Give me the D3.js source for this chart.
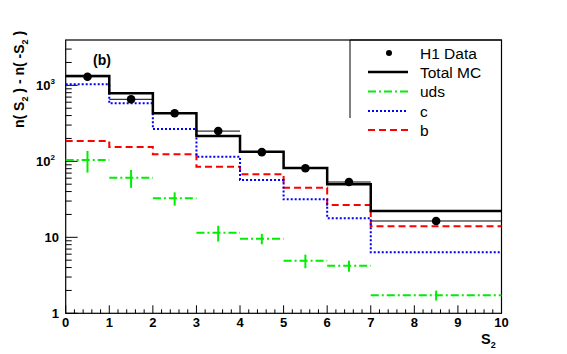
<!DOCTYPE html>
<html><head><meta charset="utf-8">
<script src="https://cdn.jsdelivr.net/npm/d3@7"></script>
<style>body{margin:0;background:#fff}svg{display:block}text{font-family:"Liberation Sans",Arial,sans-serif}</style>
</head><body>
<script>
const binEdges = [0,1,2,3,4,5,6,7,10];
const totalMC = [1330,785,428,215,134,81.6,49.8,22.2];
const cVals   = [1031,579,266,115,56.8,31.6,17.8,6.35];
const bVals   = [185,154,124,85,67.5,45,26.6,14.0];
const udsVals = [104,60.8,32.6,11.5,9.6,4.92,4.23,1.73];
const udsErr  = [33,16,6.5,2.7,1.5,1.0,0.7,0.26];
const dataX   = [0.5,1.5,2.5,3.5,4.5,5.5,6.5,8.5];
const dataVals= [1300,655,430,250,132,81,53.4,16.4];
const xTicks = [0,1,2,3,4,5,6,7,8,9,10];
const yTickLabels = [{v:1,t:"1"},{v:10,t:"10"},{v:100,t:"10",s:"2"},{v:1000,t:"10",s:"3"}];
const legendItems = ["H1 Data","Total MC","uds","c","b"];

const W=567,H=354;
const svg=d3.select("body").append("svg").attr("width",W).attr("height",H);
const x=d3.scaleLinear().domain([0,10]).range([65.7,501.5]);
const y=d3.scaleLog().domain([1,3950]).range([313.3,40]);

// frame
svg.append("rect").attr("x",x(0)).attr("y",40).attr("width",x(10)-x(0)).attr("height",y(1)-40)
  .attr("fill","none").attr("stroke","#000").attr("stroke-width",1.2);

// x ticks
const g=svg.append("g");
for(let i=0;i<=50;i++){const v=i/5;const major=i%5===0;
  g.append("line").attr("x1",x(v)).attr("x2",x(v)).attr("y1",y(1)).attr("y2",y(1)-(major?8:4)).attr("stroke","#000");}
xTicks.forEach(v=>g.append("text").attr("x",x(v)).attr("y",327).attr("text-anchor","middle")
  .attr("font-size",13).attr("font-weight","bold").text(v));
// y ticks
for(let d=1;d<=1000;d*=10){for(let k=1;k<=9;k++){const v=d*k;if(v>3950)break;
  g.append("line").attr("x1",x(0)).attr("x2",x(0)+(k===1?12:6)).attr("y1",y(v)).attr("y2",y(v)).attr("stroke","#000");}}
yTickLabels.forEach(o=>{const t=g.append("text").attr("x",o.s?55:59).attr("y",y(o.v)+5).attr("text-anchor","end")
  .attr("font-size",13).attr("font-weight","bold");
  t.append("tspan").text(o.t);
  if(o.s) t.append("tspan").attr("dy",-6).attr("font-size",8).text(o.s);});

// axis titles
const xt=svg.append("text").attr("x",481).attr("y",344).attr("font-size",14.5).attr("font-weight","bold");
xt.append("tspan").text("S");xt.append("tspan").attr("dy",4).attr("font-size",9).text("2");
const yt=svg.append("text").attr("transform","translate(24,128) rotate(-90)").attr("font-size",14).attr("font-weight","bold");
yt.append("tspan").text("n( S");yt.append("tspan").attr("dy",4).attr("font-size",9).text("2");
yt.append("tspan").attr("dy",-4).text(" ) - n( -S");yt.append("tspan").attr("dy",4).attr("font-size",9).text("2");
yt.append("tspan").attr("dy",-4).text(" )");

svg.append("text").attr("x",93).attr("y",65).attr("font-size",14).attr("font-weight","bold").text("(b)");

function stepPath(vals){let p="";vals.forEach((v,i)=>{const x0=x(binEdges[i]),x1=x(binEdges[i+1]),yy=y(v);
  p+=(i===0?"M":"L")+x0+","+yy+"L"+x1+","+yy;});return p;}

const plot=svg.append("g");
plot.append("path").attr("d",stepPath(bVals)).attr("fill","none").attr("stroke","#ff0000").attr("stroke-width",2).attr("stroke-dasharray","7,4");
plot.append("path").attr("d",stepPath(cVals)).attr("fill","none").attr("stroke","#0000ff").attr("stroke-width",2).attr("stroke-dasharray","2,2");
// uds
udsVals.forEach((v,i)=>{const x0=x(binEdges[i]),x1=x(binEdges[i+1]),xc=x(dataX[i]);
  plot.append("line").attr("x1",x0).attr("x2",x1).attr("y1",y(v)).attr("y2",y(v)).attr("stroke","#00ee00").attr("stroke-width",2).attr("stroke-dasharray","8,3,2,3");
  plot.append("line").attr("x1",xc).attr("x2",xc).attr("y1",y(v-udsErr[i])).attr("y2",y(v+udsErr[i])).attr("stroke","#00ee00").attr("stroke-width",2);});
plot.append("path").attr("d",stepPath(totalMC)).attr("fill","none").attr("stroke","#000").attr("stroke-width",2.5);
// data
dataVals.forEach((v,i)=>{
  plot.append("line").attr("x1",x(binEdges[i])).attr("x2",x(binEdges[i+1])).attr("y1",y(v)).attr("y2",y(v)).attr("stroke","#000").attr("stroke-width",1);
  plot.append("circle").attr("cx",x(dataX[i])).attr("cy",y(v)).attr("r",4.3).attr("fill","#000");});

// legend
const lg=svg.append("g");
lg.append("path").attr("d","M350,118L350,40L501.5,40").attr("fill","none").attr("stroke","#000").attr("stroke-width",1);
const ly=[53,72,91.5,111,130];
const styles=[null,{c:"#000",w:2.5,d:null},{c:"#00ee00",w:2,d:"8,3,2,3"},{c:"#0000ff",w:2,d:"2,2"},{c:"#ff0000",w:2,d:"7,4"}];
legendItems.forEach((t,i)=>{
  if(i===0) lg.append("circle").attr("cx",389).attr("cy",ly[i]).attr("r",3).attr("fill","#000");
  else lg.append("line").attr("x1",368).attr("x2",408).attr("y1",ly[i]).attr("y2",ly[i]).attr("stroke",styles[i].c).attr("stroke-width",styles[i].w).attr("stroke-dasharray",styles[i].d);
  lg.append("text").attr("x",420).attr("y",ly[i]+5.5).attr("font-size",15.5).text(t);});
</script>
</body></html>
